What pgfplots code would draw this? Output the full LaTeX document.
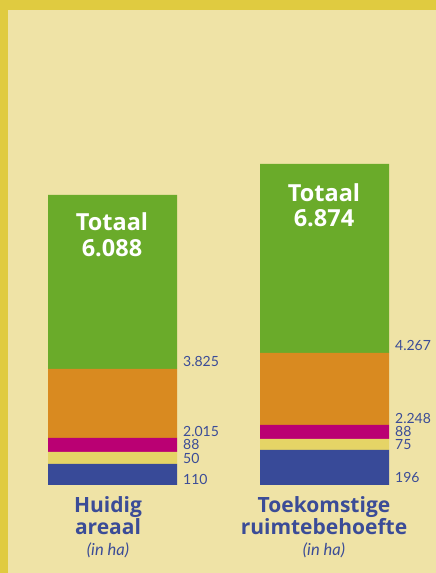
\documentclass[border=0pt]{standalone}
\usepackage{pgfplots}
\pgfplotsset{compat=1.18}
\usepackage{pgfplotstable}
\usepackage{fontspec}
\setmainfont{Lato}
\newfontfamily\osb{Open Sans}
\definecolor{bg}{HTML}{EFE3A6}
\definecolor{frame}{HTML}{E0CB40}
\definecolor{cblue}{HTML}{384A98}
\definecolor{cyellow}{HTML}{E5D466}
\definecolor{cmag}{HTML}{BA0073}
\definecolor{corange}{HTML}{D98A20}
\definecolor{cgreen}{HTML}{6AAB2A}
\definecolor{txt}{HTML}{3B4C97}
% drawn heights (as in the picture); labelled values (ha) are in the nodes
\pgfplotstableread{
x   blue yellow mag orange green
112.5 21  12     14  69     174
324.5 35  11     14  72     189
}\drawn
\tikzset{val/.style={anchor=west, inner sep=0pt, text height=9.5pt, text depth=0pt, text=txt, font=\fontsize{14}{14}\selectfont},
  tot/.style={inner sep=0pt, text=white, font=\osb\fontsize{23.5}{23.5}\selectfont\bfseries},
  cat/.style={inner sep=0pt, text=txt, font=\osb\fontsize{21}{21}\selectfont\bfseries},
  unit/.style={inner sep=0pt, text=txt, font=\fontsize{16.5}{16.5}\selectfont\itshape}}
\begin{document}
\begin{tikzpicture}
\fill[bg] (0,0) rectangle (436pt,573pt);
\fill[frame] (0,563pt) rectangle (436pt,573pt);
\fill[frame] (0,0) rectangle (8pt,573pt);
\begin{axis}[
  at={(0,0)}, anchor=south west,
  scale only axis, width=436pt, height=573pt,
  xmin=0, xmax=436, ymin=-88, ymax=485,
  hide axis,
  clip=false,
  ybar stacked, bar width=129pt,
]
\addplot[fill=cblue, draw=none] table[x=x,y=blue]{\drawn};
\addplot[fill=cyellow, draw=none] table[x=x,y=yellow]{\drawn};
\addplot[fill=cmag, draw=none] table[x=x,y=mag]{\drawn};
\addplot[fill=corange, draw=none] table[x=x,y=orange]{\drawn};
\addplot[fill=cgreen, draw=none] table[x=x,y=green]{\drawn};
% value labels
\node[val] at (axis cs:183,123) {3.825};
\node[val] at (axis cs:183,53) {2.015};
\node[val] at (axis cs:183,40) {88};
\node[val] at (axis cs:183,26) {50};
\node[val] at (axis cs:183,5) {110};
\node[val] at (axis cs:395,139) {4.267};
\node[val] at (axis cs:395,66.5) {2.248};
\node[val] at (axis cs:395,53) {88};
\node[val] at (axis cs:395,40) {75};
\node[val] at (axis cs:395,7) {196};
\coordinate (ta) at (axis cs:112,263);
\coordinate (tb) at (axis cs:112,237);
\coordinate (tc) at (axis cs:324,292);
\coordinate (td) at (axis cs:324,267);
\node[cat] at (axis cs:108,-22) {Huidig};
\node[cat] at (axis cs:108,-42) {areaal};
\node[unit] at (axis cs:108,-65) {(in ha)};
\node[cat] at (axis cs:324,-22) {Toekomstige};
\node[cat] at (axis cs:324,-42) {ruimtebehoefte};
\node[unit] at (axis cs:324,-65) {(in ha)};
\end{axis}
\node[tot] at (ta) {Totaal};
\node[tot] at (tb) {6.088};
\node[tot] at (tc) {Totaal};
\node[tot] at (td) {6.874};
\end{tikzpicture}
\end{document}
